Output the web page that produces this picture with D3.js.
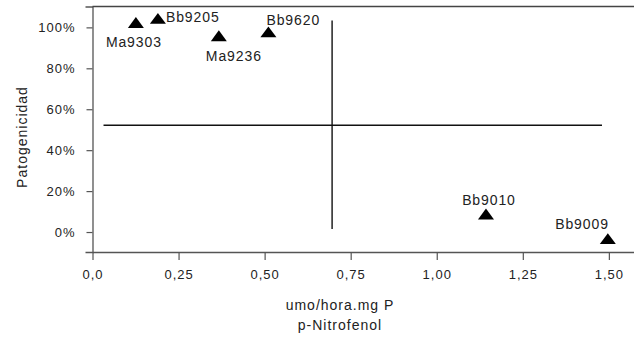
<!DOCTYPE html>
<html>
<head>
<meta charset="utf-8">
<script src="https://cdn.jsdelivr.net/npm/d3@7"></script>
<style>
  html, body { margin: 0; padding: 0; background: #fff; }
  svg { display: block; font-family: "Liberation Sans", Arial, Helvetica, sans-serif; }
</style>
</head>
<body>
<svg id="chart" width="634" height="337"></svg>
<script>
// ---- data ----
const strains = ["Ma9303", "Bb9205", "Ma9236", "Bb9620", "Bb9010", "Bb9009"];
const activity = [0.126, 0.190, 0.367, 0.511, 1.143, 1.497];      // umol/hora.mg P p-Nitrofenol
const pathogenicity = [102.4, 104.4, 95.9, 97.8, 8.8, -3.2];       // %
const xTicks = [0, 0.25, 0.5, 0.75, 1.0, 1.25, 1.5];
const xTickLabels = ["0,0", "0,25", "0,50", "0,75", "1,00", "1,25", "1,50"];
const yTicks = [0, 20, 40, 60, 80, 100];
const yTickLabels = ["0%", "20%", "40%", "60%", "80%", "100%"];
const hLine = { y: 52.2, x0: 0.032, x1: 1.48 };
const vLine = { x: 0.696, y0: 1.5, y1: 103.4 };
const xTitle = ["umo/hora.mg P", "p-Nitrofenol"];
const yTitle = "Patogenicidad";

// label placement (style)
const labelPlace = {
  Ma9303: { anchor: "middle", dx: -2, dy: 25 },
  Bb9205: { anchor: "start", dx: 8, dy: 4 },
  Ma9236: { anchor: "middle", dx: 15, dy: 25.5 },
  Bb9620: { anchor: "start", dx: -2, dy: -7 },
  Bb9010: { anchor: "middle", dx: 3, dy: -9 },
  Bb9009: { anchor: "end", dx: 1, dy: -10 }
};

const svg = d3.select("#chart");
const x = d3.scaleLinear().domain([0, 1.573]).range([92.5, 634]);
const y = d3.scaleLinear().domain([-9.76, 110.2]).range([252, 6.5]);
const axisColor = "#555";

// y axis
const yAxis = svg.append("g")
  .attr("transform", `translate(${x(0)},0)`)
  .call(d3.axisLeft(y).tickValues(yTicks).tickFormat((d, i) => yTickLabels[i])
        .tickSize(6).tickSizeOuter(7).tickPadding(11));
yAxis.select(".domain").attr("stroke", axisColor).attr("stroke-width", 1.3);
yAxis.selectAll(".tick line").attr("stroke", axisColor).attr("stroke-width", 1.2);
yAxis.selectAll(".tick text").attr("font-size", 13).attr("fill", "#222")
  .attr("letter-spacing", 1).attr("font-family", "Liberation Sans, Arial, sans-serif");

// x axis
const xAxis = svg.append("g")
  .attr("transform", `translate(0,${y.range()[0]})`)
  .call(d3.axisBottom(x).tickValues(xTicks).tickFormat((d, i) => xTickLabels[i])
        .tickSize(8).tickSizeOuter(0).tickPadding(10));
xAxis.select(".domain").attr("stroke", axisColor).attr("stroke-width", 1.3);
xAxis.selectAll(".tick line").attr("stroke", axisColor).attr("stroke-width", 1.2);
xAxis.selectAll(".tick text").attr("font-size", 13).attr("fill", "#222")
  .attr("letter-spacing", 1).attr("font-family", "Liberation Sans, Arial, sans-serif");

// top frame line (drawn after axes)
svg.append("line")
  .attr("x1", x(0)).attr("x2", x.range()[1])
  .attr("y1", y.range()[1]).attr("y2", y.range()[1])
  .attr("stroke", "#444").attr("stroke-width", 1.5);

// quadrant lines
svg.append("line")
  .attr("x1", x(hLine.x0)).attr("x2", x(hLine.x1))
  .attr("y1", y(hLine.y)).attr("y2", y(hLine.y))
  .attr("stroke", "#111").attr("stroke-width", 1.4);
svg.append("line")
  .attr("x1", x(vLine.x)).attr("x2", x(vLine.x))
  .attr("y1", y(vLine.y0)).attr("y2", y(vLine.y1))
  .attr("stroke", "#111").attr("stroke-width", 1.4);

// triangle markers
const flatTriangle = {
  draw(ctx, size) {
    const w = Math.sqrt(size), h = w * 0.68;
    ctx.moveTo(0, -h / 2);
    ctx.lineTo(w / 2, h / 2);
    ctx.lineTo(-w / 2, h / 2);
    ctx.closePath();
  }
};
const pts = strains.map((s, i) => ({ name: s, x: activity[i], y: pathogenicity[i] }));
svg.append("g").selectAll("path").data(pts).join("path")
  .attr("d", d3.symbol().type(flatTriangle).size(256))
  .attr("transform", d => `translate(${x(d.x)},${y(d.y)})`)
  .attr("fill", "#000");

svg.append("g").selectAll("text").data(pts).join("text")
  .attr("x", d => x(d.x) + labelPlace[d.name].dx)
  .attr("y", d => y(d.y) + labelPlace[d.name].dy)
  .attr("text-anchor", d => labelPlace[d.name].anchor)
  .attr("font-size", 14).attr("letter-spacing", 0.9).attr("fill", "#222")
  .text(d => d.name);

// axis titles
svg.append("text")
  .attr("transform", "translate(27,137) rotate(-90)")
  .attr("text-anchor", "middle")
  .attr("font-size", 14).attr("letter-spacing", 1).attr("fill", "#222")
  .text(yTitle);
svg.append("g").selectAll("text").data(xTitle).join("text")
  .attr("x", 340)
  .attr("y", (d, i) => 310 + i * 20)
  .attr("text-anchor", "middle")
  .attr("font-size", 14).attr("letter-spacing", 1).attr("fill", "#222")
  .text(d => d);
</script>
</body>
</html>
